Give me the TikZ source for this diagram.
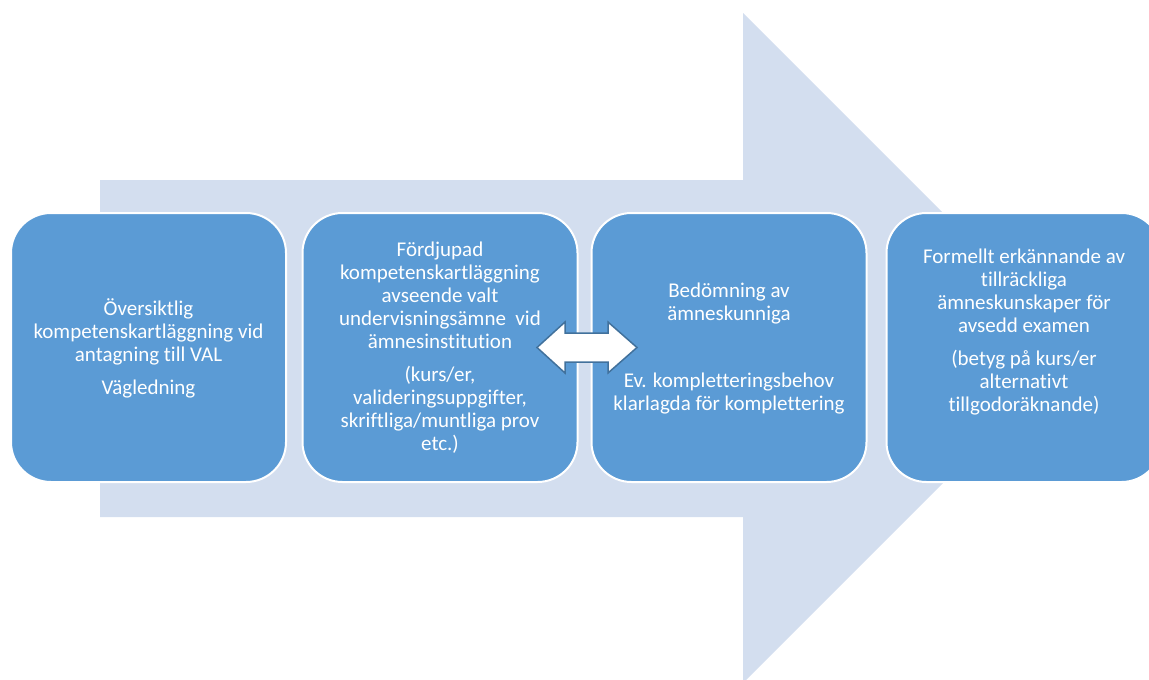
\documentclass[tikz,border=0pt]{standalone}
\usepackage{fontspec}
\setmainfont{Carlito}[Ligatures={NoCommon,NoContextual}]
\definecolor{bigarrow}{HTML}{D3DEEF}
\definecolor{boxblue}{HTML}{5B9BD5}
\definecolor{edgeblue}{HTML}{41719C}
\begin{document}
\begin{tikzpicture}[x=1pt,y=-1pt,
  stage/.style={draw=white,line width=2pt,fill=boxblue,rounded corners=40pt,
    minimum width=275pt,minimum height=269pt,inner sep=0pt},
  stagetext/.style={text=white,align=center,inner sep=0pt,
    font=\fontsize{21}{23}\selectfont}]
\useasboundingbox (0,0) rectangle (1149,680);
\clip (0,0) rectangle (1149,680);
% big background arrow
\fill[bigarrow] (100,180) -- (743,180) -- (743,13) -- (1078,348) -- (743,683)
  -- (743,517) -- (100,517) -- cycle;
% stage boxes
\node[stage] (b1) at (148.5,347.5) {};
\node[stage] (b2) at (440,347.5) {};
\node[stage] (b3) at (729,347.5) {};
\node[stage] (b4) at (1024,347.5) {};
% texts
\node[stagetext] (t1) at (148.5,348.5) {Översiktlig\\ kompetenskartläggning vid\\ antagning till VAL\\[9.5pt] Vägledning};
\node[stagetext] (t2) at (440,347.5) {Fördjupad\\ kompetenskartläggning\\ avseende valt\\ undervisningsämne\ \ vid\\ ämnesinstitution\\[10pt] (kurs/er,\\ valideringsuppgifter,\\ skriftliga/muntliga prov\\ etc.)};
\node[stagetext] (t3) at (729,348.5) {Bedömning av\\ ämneskunniga\\[44pt] Ev. kompletteringsbehov\\ klarlagda för komplettering};
\node[stagetext] (t4) at (1024,332.5) {Formellt erkännande av\\ tillräckliga\\ ämneskunskaper för\\ avsedd examen\\[10pt] (betyg på kurs/er\\ alternativt\\ tillgodoräknande)};
% double arrow between stage 2 and stage 3
\coordinate (dl) at (537,347.5);
\coordinate (dr) at (637,347.5);
\draw[draw=edgeblue,line width=1.5pt,fill=white,line join=miter]
  (dl) -- (565,322) -- (565,333) -- (608,333) -- (608,322) -- (dr)
  -- (608,373) -- (608,362) -- (565,362) -- (565,373) -- cycle;
\end{tikzpicture}
\end{document}
